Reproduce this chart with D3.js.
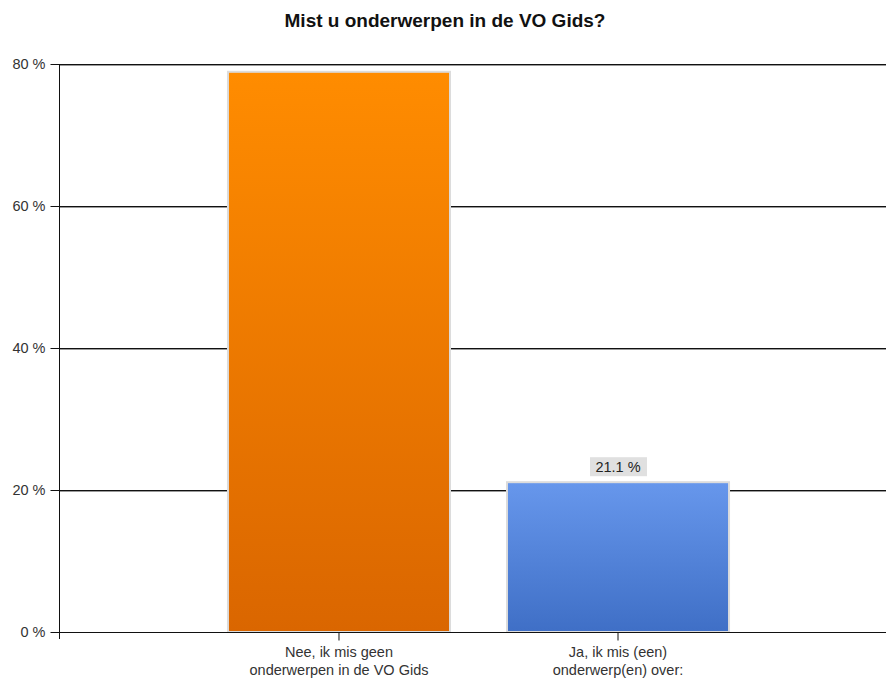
<!DOCTYPE html>
<html>
<head>
<meta charset="utf-8">
<script src="https://cdn.jsdelivr.net/npm/d3@7"></script>
<style>
  body { margin: 0; background: #fff; }
  text { font-family: Arial, "Liberation Sans", sans-serif; }
</style>
</head>
<body>
<div id="chart"></div>
<script>
// data
const categories = ["Nee, ik mis geen|onderwerpen in de VO Gids", "Ja, ik mis (een)|onderwerp(en) over:"];
const values = [78.9, 21.1];
const yTicks = [0, 20, 40, 60, 80];
const barColors = [["#ff8c00", "#da6600"], ["#6797ec", "#3f6fc6"]];

const width = 886, height = 682;

const svg = d3.select("#chart").append("svg")
  .attr("width", width)
  .attr("height", height);

const y = d3.scaleLinear().domain([0, 80]).range([632, 64]);
const x = d3.scaleBand().domain(categories).range([59, 898])
  .paddingInner(0.197).paddingOuter(0.602);

// gradients
const defs = svg.append("defs");
barColors.forEach((c, i) => {
  const g = defs.append("linearGradient").attr("id", "grad" + i)
    .attr("x1", 0).attr("y1", 0).attr("x2", 0).attr("y2", 1);
  g.append("stop").attr("offset", "0%").attr("stop-color", c[0]);
  g.append("stop").attr("offset", "100%").attr("stop-color", c[1]);
});

// title
svg.append("text")
  .attr("x", width / 2 + 2).attr("y", 27)
  .attr("text-anchor", "middle")
  .style("font-size", "19px").style("font-weight", "bold")
  .attr("fill", "#111")
  .text("Mist u onderwerpen in de VO Gids?");

// gridlines (double line look)
const grid = svg.append("g");
yTicks.filter(t => t > 0).forEach(t => {
  grid.append("line").attr("x1", 59).attr("x2", width)
    .attr("y1", y(t) + 0.5).attr("y2", y(t) + 0.5)
    .attr("stroke", "#111").attr("stroke-width", 1);
  grid.append("line").attr("x1", 59).attr("x2", width)
    .attr("y1", y(t) + 1.5).attr("y2", y(t) + 1.5)
    .attr("stroke", "#9a9a9a").attr("stroke-width", 1);
});

// bars
svg.append("g").selectAll("rect")
  .data(categories)
  .join("rect")
  .attr("x", d => x(d) + 1)
  .attr("y", (d, i) => y(values[i]))
  .attr("width", x.bandwidth() - 2)
  .attr("height", (d, i) => y(0) - y(values[i]))
  .attr("fill", (d, i) => `url(#grad${i})`)
  .attr("stroke", "#dcdcdc")
  .attr("stroke-width", 2);

// value labels (only when room above bar)
const lbl = svg.append("g").selectAll("g")
  .data(categories.filter((d, i) => y(values[i]) - 26 > y(80)))
  .join("g")
  .attr("transform", d => `translate(${x(d) + x.bandwidth() / 2},${y(values[categories.indexOf(d)]) - 15})`);
lbl.append("rect")
  .attr("x", -28).attr("y", -10).attr("width", 57).attr("height", 19)
  .attr("fill", "#e0e0e0");
lbl.append("text")
  .attr("text-anchor", "middle").attr("dy", "0.35em")
  .style("font-size", "14.5px").attr("fill", "#222")
  .text(d => values[categories.indexOf(d)].toFixed(1) + " %");

// y axis
const yAxis = d3.axisLeft(y).tickValues(yTicks).tickSize(9).tickPadding(5)
  .tickFormat(d => d + " %");
const ya = svg.append("g").attr("transform", "translate(59.5,0)").call(yAxis);
ya.select(".domain").remove();
ya.selectAll(".tick line").attr("stroke", "#111");
ya.selectAll(".tick text").style("font-size", "14.5px").attr("fill", "#333")
  .style("font-family", "Arial, 'Liberation Sans', sans-serif");
svg.append("line").attr("x1", 59.5).attr("x2", 59.5).attr("y1", 64).attr("y2", 639)
  .attr("stroke", "#111");

// x axis
const xa = svg.append("g").attr("transform", "translate(0,632.5)")
  .call(d3.axisBottom(x).tickSize(8).tickSizeOuter(0));
xa.select(".domain").attr("d", `M59,0H${width}`).attr("stroke", "#111");
xa.selectAll(".tick line").attr("stroke", "#111");
xa.selectAll(".tick text").remove();
xa.selectAll(".tick").each(function(d) {
  const t = d3.select(this).append("text")
    .attr("text-anchor", "middle").attr("fill", "#333")
    .style("font-size", "14.5px")
    .style("font-family", "Arial, 'Liberation Sans', sans-serif");
  d.split("|").forEach((line, i) => {
    t.append("tspan").attr("x", 0).attr("y", 24 + i * 18).text(line);
  });
});
</script>
</body>
</html>
